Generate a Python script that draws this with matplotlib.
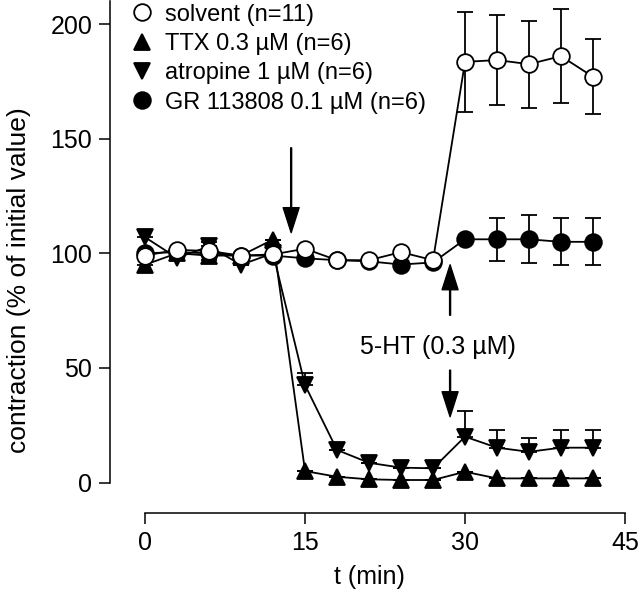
import numpy as np
import matplotlib
matplotlib.use("Agg")
import matplotlib.pyplot as plt
from matplotlib.lines import Line2D

plt.rcParams['font.family'] = ['Liberation Sans', 'DejaVu Sans']
plt.rcParams['font.size'] = 17

# time points (min)
t = [0, 3, 6, 9, 12, 15, 18, 21, 24, 27, 30, 33, 36, 39, 42]

# solvent (n=11), mean and symmetric error
solvent = [99, 101.5, 101, 99, 99.5, 102, 97, 97, 100.5, 97, 183.5, 184.3, 182.5, 186, 177]
solvent_err = [0, 0, 0, 0, 0, 0, 0, 0, 0, 0, 21.7, 19.7, 19, 20.6, 16.3]

# TTX 0.3 uM (n=6), error drawn downward
ttx = [95, 100, 99, 99, 106, 5, 2.5, 1.4, 1.1, 1.1, 4.7, 1.8, 1.8, 1.8, 1.8]
ttx_err = [3, 0, 2, 0, 0, 0, 0, 0, 0, 0, 0, 0, 0, 0, 0]

# atropine 1 uM (n=6), error drawn upward
atropine = [107, 98, 103, 95, 100, 42.5, 14.2, 8.6, 6.5, 6.2, 20, 15.2, 13.4, 15.2, 15.2]
atropine_err = [3, 0, 2, 0, 0, 5.1, 0, 0, 0, 0, 11.2, 7.7, 5.9, 7.7, 7.7]

# GR 113808 0.1 uM (n=6)
gr = [100, 100.5, 100, 99, 99, 97.8, 97, 96.5, 95.1, 96, 106.1, 106.1, 106.1, 105, 105]
gr_err = [0, 0, 0, 0, 0, 0, 0, 0, 0, 0, 0, 9.4, 10.4, 10.2, 10.3]

labels = ["solvent (n=11)", "TTX 0.3 µM (n=6)", "atropine 1 µM (n=6)",
          "GR 113808 0.1 µM (n=6)"]

fig = plt.figure(figsize=(6.4, 5.98), dpi=100)
ax = fig.add_axes([0.2266, 0.1931, 0.75, 0.805])

lw = 1.3
common = dict(color='black', lw=lw, elinewidth=lw, capsize=6, capthick=lw,
              markeredgecolor='black', markeredgewidth=lw, clip_on=False)

zero = np.zeros(len(t))
ax.errorbar(t, gr, yerr=[gr_err, gr_err], fmt='-o', ms=12,
            markerfacecolor='black', zorder=2, **common)
ax.errorbar(t, ttx, yerr=[ttx_err, zero], fmt='-^', ms=11,
            markerfacecolor='black', zorder=3, **common)
ax.errorbar(t, atropine, yerr=[zero, atropine_err], fmt='-v', ms=11,
            markerfacecolor='black', zorder=3, **common)
ax.errorbar(t, solvent, yerr=[solvent_err, solvent_err], fmt='-o', ms=12,
            markerfacecolor='white', zorder=4, **common)

for a in ax.get_children():
    if hasattr(a, 'set_clip_on'):
        a.set_clip_on(False)

ax.set_xlim(0, 45)
ax.set_ylim(0, 210)
ax.set_xticks([0, 15, 30, 45])
ax.set_yticks([0, 50, 100, 150, 200])
ax.spines['top'].set_visible(False)
ax.spines['right'].set_visible(False)
ax.spines['left'].set_position(('outward', 25))
ax.spines['bottom'].set_position(('outward', 22))
ax.spines['bottom'].set_bounds(0, 45)
ax.spines['left'].set_linewidth(1.1)
ax.spines['bottom'].set_linewidth(1.1)
ax.tick_params(direction='out', length=8, width=1.1, pad=5, labelsize=18)
ax.set_xlabel("t (min)", fontsize=18)
ax.set_ylabel("contraction (% of initial value)", fontsize=19)
ax.xaxis.set_label_coords(0.467, -0.172)
ax.yaxis.set_label_coords(-0.238, 0.42)

arrow = dict(facecolor='black', edgecolor='black', width=0.7, headwidth=11.5,
             headlength=18, shrink=0)
ax.annotate("", xy=(13.7, 109), xytext=(13.7, 146), arrowprops=arrow)
ax.annotate("", xy=(28.6, 95), xytext=(28.6, 73), arrowprops=arrow)
ax.annotate("", xy=(28.6, 28.7), xytext=(28.6, 49), arrowprops=arrow)
ax.text(27.5, 59.2, "5-HT (0.3 µM)", ha='center', va='center', fontsize=18)

handles = [
    Line2D([], [], ls='none', marker='o', ms=12, mfc='white', mec='black', mew=lw),
    Line2D([], [], ls='none', marker='^', ms=11, mfc='black', mec='black', mew=lw),
    Line2D([], [], ls='none', marker='v', ms=11, mfc='black', mec='black', mew=lw),
    Line2D([], [], ls='none', marker='o', ms=12, mfc='black', mec='black', mew=lw),
]
fig.legend(handles, labels, loc='upper left', bbox_to_anchor=(0.2035, 0.994),
           frameon=False, borderpad=0, borderaxespad=0, handlelength=1.0,
           handletextpad=0.47, labelspacing=0.31, fontsize=17)

fig.savefig("out.png", dpi=100)
